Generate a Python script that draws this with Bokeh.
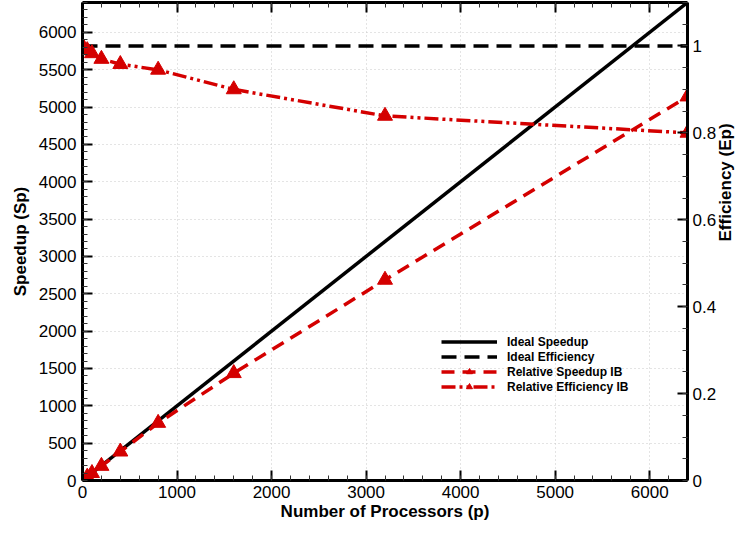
import math
from bokeh.plotting import figure
from bokeh.models import (Range1d, LinearAxis, SingleIntervalTicker, CustomJSTickFormatter,
                          Legend, LegendItem)
from bokeh.embed import file_html
from bokeh.resources import INLINE

# ---- data ----
procs = [1, 50, 100, 200, 400, 800, 1600, 3200, 6400]
rel_speedup = [1, 49, 98, 194, 386, 770, 1436, 2686, 5140]
rel_eff = [1.0, 0.99, 0.983, 0.97, 0.958, 0.945, 0.900, 0.839, 0.800]
ideal_x = [0, 6400]
ideal_speedup = [0, 6400]
ideal_eff = [1.0, 1.0]

RED = "#d40000"
FONT = "Liberation Sans"

p = figure(width=747, height=523, output_backend="svg", toolbar_location=None,
           x_range=Range1d(0, 6400), y_range=Range1d(0, 6400),
           min_border_left=82, min_border_right=0, min_border_top=2, min_border_bottom=0,
           x_axis_label="Number of Processors (p)", y_axis_label="Speedup (Sp)")
p.outline_line_color = None
p.extra_y_ranges = {"eff": Range1d(0, 1.1)}

def style_axis(ax):
    ax.axis_line_width = 3
    ax.axis_line_color = "black"
    ax.major_tick_in = 10
    ax.major_tick_out = 0
    ax.minor_tick_in = 5
    ax.minor_tick_out = 0
    ax.major_tick_line_width = 2
    ax.minor_tick_line_width = 1
    ax.major_tick_line_color = "black"
    ax.minor_tick_line_color = "#333333"
    ax.major_label_text_font = FONT
    ax.major_label_text_font_size = "17px"
    ax.major_label_text_color = "black"
    ax.axis_label_text_font = FONT
    ax.axis_label_text_font_size = "17px"
    ax.axis_label_text_font_style = "bold"
    ax.axis_label_text_color = "black"
    ax.major_label_standoff = 6

xt = SingleIntervalTicker(interval=1000, num_minor_ticks=5)
yt = SingleIntervalTicker(interval=500, num_minor_ticks=5)
p.xaxis.ticker = xt
p.yaxis.ticker = yt
style_axis(p.xaxis[0])
style_axis(p.yaxis[0])
p.xaxis.major_label_standoff = 5
p.xaxis.axis_label_standoff = 1
p.yaxis.axis_label_standoff = 6

top = LinearAxis(ticker=SingleIntervalTicker(interval=1000, num_minor_ticks=5),
                 formatter=CustomJSTickFormatter(code="return '';"))
style_axis(top)
top.major_label_standoff = 0
p.add_layout(top, "above")

right = LinearAxis(y_range_name="eff", axis_label="Efficiency (Ep)",
                   ticker=SingleIntervalTicker(interval=0.2, num_minor_ticks=4),
                   formatter=CustomJSTickFormatter(code="return String(parseFloat(tick.toFixed(2)));"))
style_axis(right)
right.major_label_standoff = 5
right.axis_label_standoff = 6
try:
    right.axis_label_orientation = math.pi / 2
except Exception:
    pass
p.add_layout(right, "right")

p.xgrid.grid_line_color = "#c8c8c8"
p.xgrid.grid_line_dash = "1 3"
p.ygrid.grid_line_color = "#c8c8c8"
p.ygrid.grid_line_dash = "1 3"
p.xgrid.ticker = xt
p.ygrid.ticker = yt

r1 = p.line(ideal_x, ideal_speedup, line_color="black", line_width=3.5)
r2 = p.line(ideal_x, ideal_eff, y_range_name="eff", line_color="black", line_width=3.5,
            line_dash="15 8")
r3 = p.line(procs, rel_speedup, line_color=RED, line_width=3.5, line_dash="13 8")
r3m = p.scatter(procs, rel_speedup, marker="triangle", size=15, fill_color=RED,
                line_color=RED)
r4 = p.line(procs, rel_eff, y_range_name="eff", line_color=RED, line_width=3.5,
            line_dash="14 4 3 4 3 4")
r4m = p.scatter(procs, rel_eff, y_range_name="eff", marker="triangle", size=15,
                fill_color=RED, line_color=RED)

legend = Legend(items=[
    LegendItem(label="Ideal Speedup", renderers=[r1]),
    LegendItem(label="Ideal Efficiency", renderers=[r2]),
    LegendItem(label="Relative Speedup IB", renderers=[r3, r3m]),
    LegendItem(label="Relative Efficiency IB", renderers=[r4, r4m]),
], location=(359, 86))
legend.label_text_font = FONT
legend.label_text_font_size = "12px"
legend.label_text_font_style = "bold"
legend.label_text_color = "black"
legend.glyph_width = 56
legend.glyph_height = 15
legend.label_height = 15
legend.spacing = 0
legend.padding = 2
legend.margin = 0
legend.label_standoff = 10
legend.border_line_color = None
legend.background_fill_alpha = 0
p.add_layout(legend, "center")

open("out.html", "w").write(file_html(p, INLINE))
